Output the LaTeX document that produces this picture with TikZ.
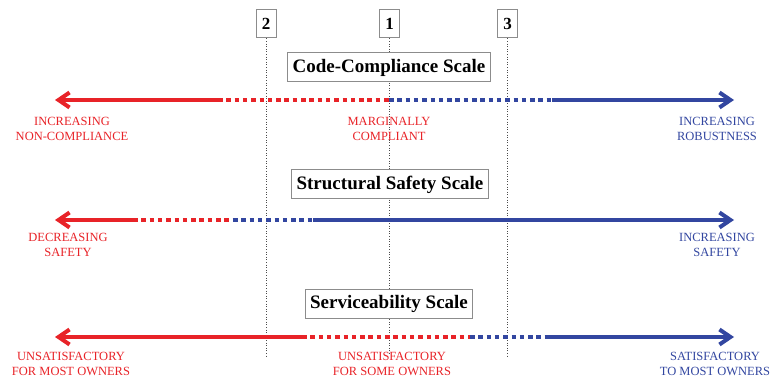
\documentclass[tikz,border=0pt]{standalone}
\usepackage{fontspec}
\setmainfont{Liberation Serif}
\usepackage{tikz}
\usetikzlibrary{arrows.meta}
\definecolor{scaleRed}{RGB}{232,35,40}
\definecolor{scaleBlue}{RGB}{50,70,160}
\tikzstyle{scaleTitle} = [rectangle, draw=black!45, line width=1pt, fill=white,
    font=\fontsize{19}{22}\selectfont\bfseries, inner xsep=5pt, minimum height=29pt]
\tikzstyle{markerBox} = [rectangle, draw=black!45, line width=1pt, fill=white,
    font=\fontsize{17}{20}\selectfont\bfseries, inner sep=0pt,
    minimum width=20pt, minimum height=28pt]
\tikzstyle{guideLine} = [draw=black!70, line width=0.9pt, dash pattern=on 1pt off 1.6pt]
\tikzstyle{redLabel} = [text=scaleRed, align=center, font=\fontsize{12.5}{15}\selectfont]
\tikzstyle{blueLabel} = [text=scaleBlue, align=center, font=\fontsize{12.5}{15}\selectfont]
\tikzstyle{redSolid} = [draw=scaleRed, line width=4pt,
    -{Straight Barb[length=11pt,width=15pt]}]
\tikzstyle{blueSolid} = [draw=scaleBlue, line width=4pt,
    -{Straight Barb[length=11pt,width=15pt]}]
\tikzstyle{redDotted} = [draw=scaleRed, line width=4pt, dash pattern=on 4.5pt off 3.8pt]
\tikzstyle{blueDotted} = [draw=scaleBlue, line width=4pt, dash pattern=on 4.5pt off 3.8pt]

\begin{document}
\begin{tikzpicture}[x=1pt, y=1pt]
    \useasboundingbox (0,0) rectangle (773,379);

    % Place markers and guide lines
    \node[markerBox] (markTwo) at (266,355) {2};
    \node[markerBox] (markOne) at (389.5,355) {1};
    \node[markerBox] (markThree) at (507.5,355) {3};
    \coordinate (endTwo) at (266,21);
    \coordinate (endOne) at (389.5,24);
    \coordinate (endThree) at (507.5,21);
    \path[guideLine] (markTwo) -- (endTwo);
    \path[guideLine] (markOne) -- (endOne);
    \path[guideLine] (markThree) -- (endThree);

    % Place titles
    \node[scaleTitle] (codeTitle) at (389,311.5) {Code-Compliance Scale};
    \node[scaleTitle] (safetyTitle) at (390,194.5) {Structural Safety Scale};
    \node[scaleTitle] (serviceTitle) at (389,75) {Serviceability Scale};

    % Place labels
    \node[redLabel] (nonCompliance) at (72,250) {INCREASING\\NON-COMPLIANCE};
    \node[redLabel] (marginal) at (389,250) {MARGINALLY\\COMPLIANT};
    \node[blueLabel] (robustness) at (717,250) {INCREASING\\ROBUSTNESS};
    \node[redLabel] (lessSafety) at (68,134) {DECREASING\\SAFETY};
    \node[blueLabel] (moreSafety) at (717,134) {INCREASING\\SAFETY};
    \node[redLabel] (unsatMost) at (71,15) {UNSATISFACTORY\\FOR MOST OWNERS};
    \node[redLabel] (unsatSome) at (392,15) {UNSATISFACTORY\\FOR SOME OWNERS};
    \node[blueLabel] (satMost) at (715,15) {SATISFACTORY\\TO MOST OWNERS};

    % Code-compliance scale
    \coordinate (codeLeft) at (55,279);
    \coordinate (codeA) at (218,279);
    \coordinate (codeB) at (389,279);
    \coordinate (codeC) at (552,279);
    \coordinate (codeRight) at (734,279);
    \path[redDotted] (codeA) -- (codeB);
    \path[blueDotted] (codeB) -- (codeC);
    \path[redSolid] (codeA) -- (codeLeft);
    \path[blueSolid] (codeC) -- (codeRight);

    % Structural safety scale
    \coordinate (safeLeft) at (55,159);
    \coordinate (safeA) at (133,159);
    \coordinate (safeB) at (233,159);
    \coordinate (safeC) at (313,159);
    \coordinate (safeRight) at (734,159);
    \path[redDotted] (safeA) -- (safeB);
    \path[blueDotted] (safeB) -- (safeC);
    \path[redSolid] (safeA) -- (safeLeft);
    \path[blueSolid] (safeC) -- (safeRight);

    % Serviceability scale
    \coordinate (servLeft) at (55,42);
    \coordinate (servA) at (302,42);
    \coordinate (servB) at (470,42);
    \coordinate (servC) at (548,42);
    \coordinate (servRight) at (734,42);
    \path[redDotted] (servA) -- (servB);
    \path[blueDotted] (servB) -- (servC);
    \path[redSolid] (servA) -- (servLeft);
    \path[blueSolid] (servC) -- (servRight);
\end{tikzpicture}
\end{document}
